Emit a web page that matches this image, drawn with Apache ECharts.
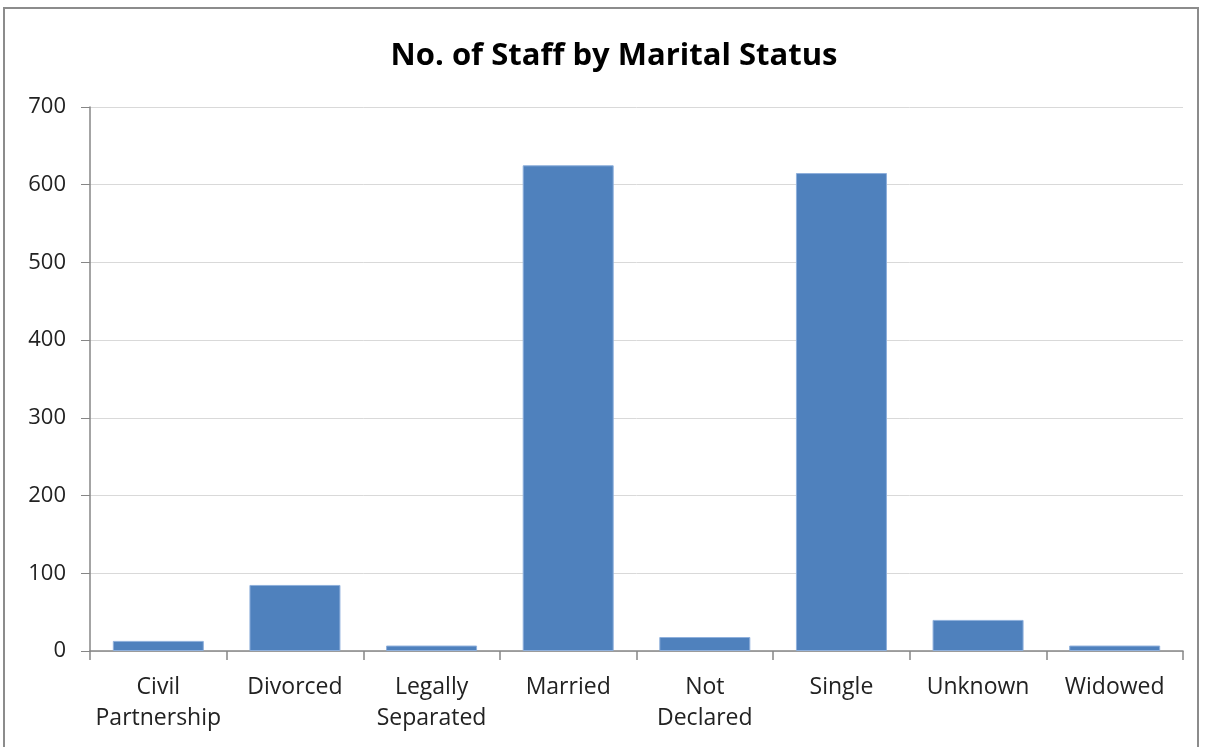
<!DOCTYPE html>
<html><head><meta charset="utf-8">
<script src="https://cdn.jsdelivr.net/npm/echarts@6/dist/echarts.min.js"></script>
<style>
html,body{margin:0;padding:0;background:#fff;}
#frame{position:absolute;left:3px;top:7px;width:1196px;height:760px;border:2px solid #8c8c8c;box-sizing:border-box;}
#c{position:absolute;left:0;top:0;width:1205px;height:747px;}
</style></head>
<body>
<div id="frame"></div>
<div id="c"></div>
<script>
var categories = ['Civil\nPartnership','Divorced','Legally\nSeparated','Married','Not\nDeclared','Single','Unknown','Widowed'];
var staffCounts = [13, 85, 7, 625, 18, 615, 40, 7];
var yTicks = [0, 100, 200, 300, 400, 500, 600, 700];

var chart = echarts.init(document.getElementById('c'), null, {renderer:'canvas'});
var font = '"Open Sans", Lato, sans-serif';
chart.setOption({
  backgroundColor: 'transparent',
  animation: false,
  title: {
    text: 'No. of Staff by Marital Status',
    left: 609, top: 36, textAlign: 'center',
    textStyle: {fontFamily: font, fontSize: 31, fontWeight: 'bold', color: '#000'}
  },
  grid: {left: 90, right: 22, top: 107, bottom: 96, containLabel: false},
  xAxis: {
    type: 'category',
    data: categories,
    boundaryGap: true,
    axisLine: {lineStyle: {color: '#868686', width: 1.5}},
    axisTick: {show: true, length: 9, alignWithLabel: false, lineStyle: {color: '#868686', width: 1.5}},
    axisLabel: {fontFamily: font, fontSize: 23, color: '#222', margin: 21, lineHeight: 31, interval: 0}
  },
  yAxis: {
    type: 'value',
    min: yTicks[0], max: yTicks[yTicks.length-1], interval: 100,
    axisLine: {show: true, lineStyle: {color: '#868686', width: 1.5}},
    axisTick: {show: true, length: 9, lineStyle: {color: '#868686'}},
    splitLine: {lineStyle: {color: '#d9d9d9', width: 1}},
    axisLabel: {fontFamily: font, fontSize: 22, color: '#222', margin: 24}
  },
  series: [{
    type: 'bar',
    data: staffCounts,
    barWidth: 91,
    itemStyle: {color: '#4F81BD', borderColor: '#8fb0dc', borderWidth: 1}
  }]
});
</script>
</body></html>
